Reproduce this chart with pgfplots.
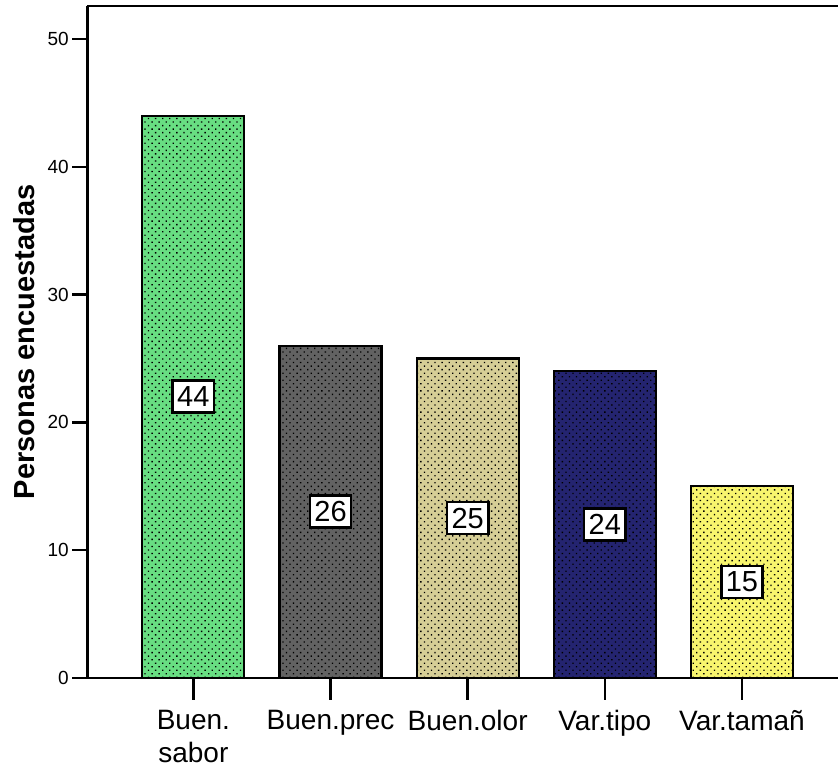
\documentclass[border=0pt]{standalone}
\usepackage{pgfplots}
\pgfplotsset{compat=1.18}
\usepackage{fontspec}
\setmainfont{Liberation Sans}
\usetikzlibrary{patterns.meta}
\definecolor{cgreen}{RGB}{104,222,130}
\definecolor{cgray}{RGB}{98,98,98}
\definecolor{ctan}{RGB}{214,206,150}
\definecolor{cnavy}{RGB}{36,36,112}
\definecolor{cyellow}{RGB}{248,245,110}
\tikzset{dotpat/.style={postaction={pattern={Dots[distance=5pt,angle=45,radius=0.95pt]},pattern color=black}}}
\pgfplotsset{mybar/.style={ybar, bar width=102pt, bar shift=0pt, draw=black, line width=2.2pt, fill=#1, dotpat}}
\begin{document}
\begin{tikzpicture}
\begin{axis}[
  name=ax,
  x=137.1pt, y=12.77pt,
  xmin=-0.773, xmax=4.70, ymin=0, ymax=52.6,
  axis x line*=bottom, axis y line*=left,
  axis line style={-, line width=2.5pt, black},
  ytick={0,10,20,30,40,50},
  xtick={0,1,2,3,4},
  xticklabels={{Buen.\\sabor},{Buen.prec},{Buen.olor},{Var.tipo},{Var.tamañ}},
  tick align=outside,
  major tick length=15pt,
  ytick style={line width=2.5pt, black},
  xtick style={draw=none},
  /pgf/number format/assume math mode=true,
  xticklabel style={font=\fontsize{28}{33}\selectfont, align=center, anchor=north, inner sep=0pt, yshift=-17pt},
  yticklabel style={font=\fontsize{19}{22}\selectfont},
  ylabel={Personas encuestadas},
  every axis y label/.style={at={(axis description cs:0,0.5)}, rotate=90, anchor=base, yshift=53.3pt, font=\bfseries\fontsize{29}{32}\selectfont},
  clip=false,
]
\addplot[mybar=cgreen] coordinates {(0,44)};
\addplot[mybar=cgray] coordinates {(1,26)};
\addplot[mybar=ctan] coordinates {(2,25)};
\addplot[mybar=cnavy] coordinates {(3,24)};
\addplot[mybar=cyellow] coordinates {(4,15)};
\addplot[draw=none, mark=none, nodes near coords, point meta=explicit symbolic,
  every node near coord/.style={anchor=center, draw=black, line width=2.5pt, fill=white, text=black,
    font=\fontsize{29}{30}\selectfont, inner xsep=4.5pt, inner ysep=0pt, minimum height=32pt}]
  coordinates {(0,22)[44] (1,13)[26] (2,12.5)[25] (3,12)[24] (4,7.5)[15]};
\pgfplotsinvokeforeach{0,1,2,3,4}{\draw[line width=2.5pt] (axis cs:#1,0) -- ([yshift=-22pt]axis cs:#1,0);}
\draw[line width=2pt] (rel axis cs:0,1) -- (rel axis cs:1,1);
\end{axis}
\pgfresetboundingbox
\path ([xshift=-87.3pt,yshift=-91.5pt]ax.south west) rectangle ([yshift=5.8pt]ax.north east);
\end{tikzpicture}
\end{document}
